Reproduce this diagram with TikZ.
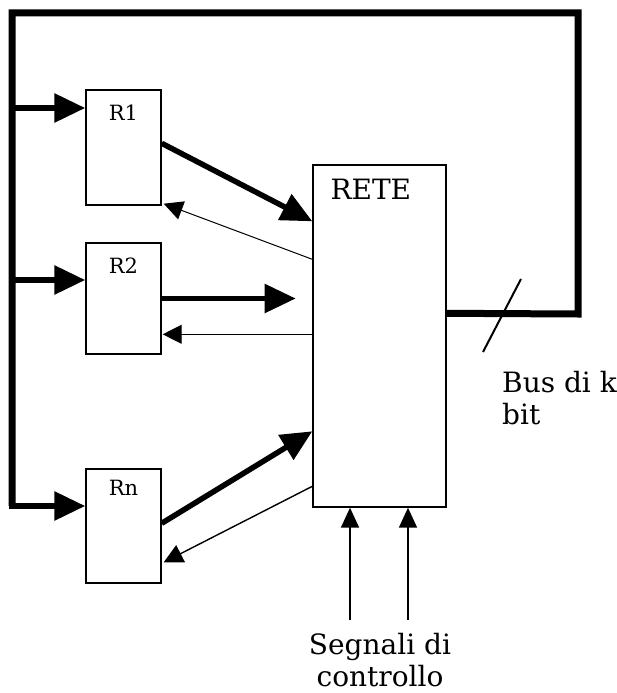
\documentclass[tikz,border=0pt]{standalone}
\usepackage{fontspec}
\setmainfont{DejaVu Serif}
\usetikzlibrary{arrows.meta,positioning,calc}

\begin{document}
\begin{tikzpicture}[x=1pt,y=-1pt,
  regbox/.style={draw,line width=1.4pt,minimum width=75pt,inner sep=0pt},
  retebox/.style={draw,line width=1.4pt,minimum width=133pt,minimum height=342pt,inner sep=0pt},
  regtext/.style={font=\fontsize{21}{24}\selectfont,inner sep=0pt},
  bigtext/.style={font=\fontsize{28}{32}\selectfont,inner sep=0pt},
  busline/.style={line width=7pt},
  feedarrow/.style={line width=6pt,-{Triangle[length=31pt,width=28pt]}},
  dataarrow/.style={line width=5.5pt,-{Triangle[length=31pt,width=28pt]}},
  backarrow/.style={line width=1pt,-{Triangle[length=19pt,width=19pt]}},
  ctrlarrow/.style={line width=1.8pt,-{Triangle[length=20pt,width=18pt]}}]
  \useasboundingbox (0,0) rectangle (616,693); % margini della figura
  \node[regbox,minimum height=115pt] (R1) at (123.5,147.5) {}; % registro R1
  \node[regbox,minimum height=111pt] (R2) at (123.5,298.5) {}; % registro R2
  \node[regbox,minimum height=114pt] (Rn) at (123.5,526) {}; % registro Rn
  \node[retebox] (rete) at (379.5,336) {}; % blocco della rete
  \node[regtext,below=15pt of R1.north] (R1lbl) {R1}; % nome di R1
  \node[regtext,below=15pt of R2.north] (R2lbl) {R2}; % nome di R2
  \node[regtext,below=12pt of Rn.north] (Rnlbl) {Rn}; % nome di Rn
  \node[bigtext,below right=15pt and 18pt of rete.north west] (retelbl) {RETE}; % nome della rete
  \coordinate (busout) at ($(rete.north east)+(0,149)$); % uscita del bus dalla rete
  \coordinate (b1) at (12,108); % diramazione verso R1
  \coordinate (b2) at (12,280); % diramazione verso R2
  \coordinate (bn) at (12,506); % diramazione verso Rn
  \draw[busline] (busout) -- (578,314) -- (578,13) -- (12,13) -- (bn); % bus di ritorno
  \draw[feedarrow] (b1) -- (R1.west |- b1); % ingresso di R1
  \draw[feedarrow] (b2) -- (R2.west |- b2); % ingresso di R2
  \draw[feedarrow] ([xshift=-3.5pt]bn) -- (Rn.west |- bn); % ingresso di Rn
  \draw[line width=2pt] (483,352) -- (521,279); % segno di bus a k bit
  \coordinate (r2tip) at ($(R2.east)+(134,0)$); % punta della freccia di R2
  \draw[dataarrow] ($(R1.north east)+(0,54)$) -- ($(rete.north west)+(0,57)$); % R1 verso la rete
  \draw[dataarrow] (R2.east) -- (r2tip); % R2 verso la rete
  \draw[dataarrow] ($(Rn.north east)+(0,55)$) -- ($(rete.north west)+(0,267)$); % Rn verso la rete
  \draw[backarrow] ($(rete.north west)+(0,95)$) -- ($(R1.south east)+(2,-2)$); % rete verso R1
  \draw[backarrow,line width=1.3pt] ($(rete.north west)+(0,170)$) -- ($(R2.north east)+(1,92)$); % rete verso R2
  \draw[backarrow,line width=1.4pt] ($(rete.north west)+(0,322)$) -- ($(Rn.north east)+(2,94)$); % rete verso Rn
  \coordinate (c1) at (350,620); % primo segnale di controllo
  \coordinate (c2) at (408,620); % secondo segnale di controllo
  \draw[ctrlarrow] (c1) -- (c1 |- rete.south); % controllo 1
  \draw[ctrlarrow] (c2) -- (c2 |- rete.south); % controllo 2
  \node[bigtext,align=left,anchor=north west] (buslbl) at (502,371) {Bus di k\\bit}; % didascalia del bus
  \node[bigtext,align=center,anchor=north] (ctrllbl) at (380,633) {Segnali di\\controllo}; % didascalia dei controlli
\end{tikzpicture}
\end{document}
